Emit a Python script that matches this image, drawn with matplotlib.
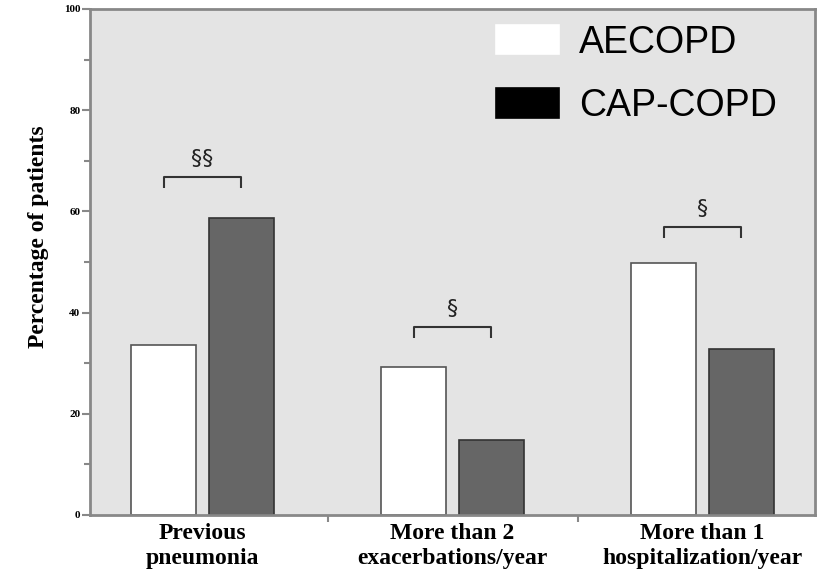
import numpy as np
import matplotlib.pyplot as plt
from matplotlib.ticker import MultipleLocator, FixedLocator

categories = ["Previous\npneumonia", "More than 2\nexacerbations/year", "More than 1\nhospitalization/year"]
aecopd = [33.5, 29.2, 49.8]
cap_copd = [58.7, 14.8, 32.8]
sig_marks = ["§§", "§", "§"]
sig_heights = [66.8, 37.2, 57.0]

x = np.arange(len(categories))
w = 0.26
off = 0.155

fig = plt.figure(figsize=(8.21, 5.84), dpi=100)
ax = fig.add_axes([90 / 821, 1 - 515 / 584, (815 - 90) / 821, (515 - 9) / 584])
ax.set_facecolor("#e4e4e4")

ax.bar(x - off, aecopd, w, color="white", edgecolor="#555555", linewidth=1.2, label="AECOPD")
ax.bar(x + off, cap_copd, w, color="#666666", edgecolor="#333333", linewidth=1.2, label="CAP-COPD")

# brackets with significance marks
for xi, h, m in zip(x, sig_heights, sig_marks):
    ax.plot([xi - off, xi - off, xi + off, xi + off], [h - 2.2, h, h, h - 2.2],
            color="#333333", lw=1.5, solid_capstyle="butt")
    ax.text(xi, h + 1.5, m, ha="center", va="bottom", fontsize=16,
            family="DejaVu Sans", color="#222222")

ax.set_xlim(-0.45, 2.45)
ax.set_ylim(0, 100)
ax.yaxis.set_major_locator(MultipleLocator(20))
ax.yaxis.set_minor_locator(MultipleLocator(10))
ax.xaxis.set_major_locator(FixedLocator([0.5, 1.5]))
ax.xaxis.set_major_formatter(plt.NullFormatter())
ax.xaxis.set_minor_locator(FixedLocator(x))
ax.set_xticklabels(categories, minor=True)
ax.tick_params(axis="x", which="minor", length=0, pad=6)
ax.tick_params(axis="x", which="major", length=5, color="#888888", width=1.5)
ax.tick_params(axis="y", which="both", direction="out", color="#888888", width=1.5, pad=1)
ax.tick_params(axis="y", which="major", length=6)
ax.tick_params(axis="y", which="minor", length=4)

for lab in ax.get_xticklabels(minor=True):
    lab.set_fontfamily("Liberation Serif")
    lab.set_fontweight("bold")
    lab.set_fontsize(17)
    lab.set_linespacing(1.2)
for lab in ax.get_yticklabels():
    lab.set_fontfamily("Liberation Serif")
    lab.set_fontweight("bold")
    lab.set_fontsize(8)

for s in ax.spines.values():
    s.set_color("#888888")
    s.set_linewidth(2)

ax.set_ylabel("Percentage of patients", fontsize=17, fontweight="bold",
              family="Liberation Serif")
ax.yaxis.set_label_coords(-0.057, 0.55)

leg = ax.legend(loc="upper left", bbox_to_anchor=(0.513, 1.036), frameon=False,
                prop={"family": "Liberation Sans", "size": 27},
                handlelength=1.7, handleheight=0.83, handletextpad=0.53, labelspacing=0.73)
leg.legend_handles[0].set_edgecolor("white")
leg.legend_handles[1].set_facecolor("black")
leg.legend_handles[1].set_edgecolor("black")

fig.savefig("out.png", dpi=100)
